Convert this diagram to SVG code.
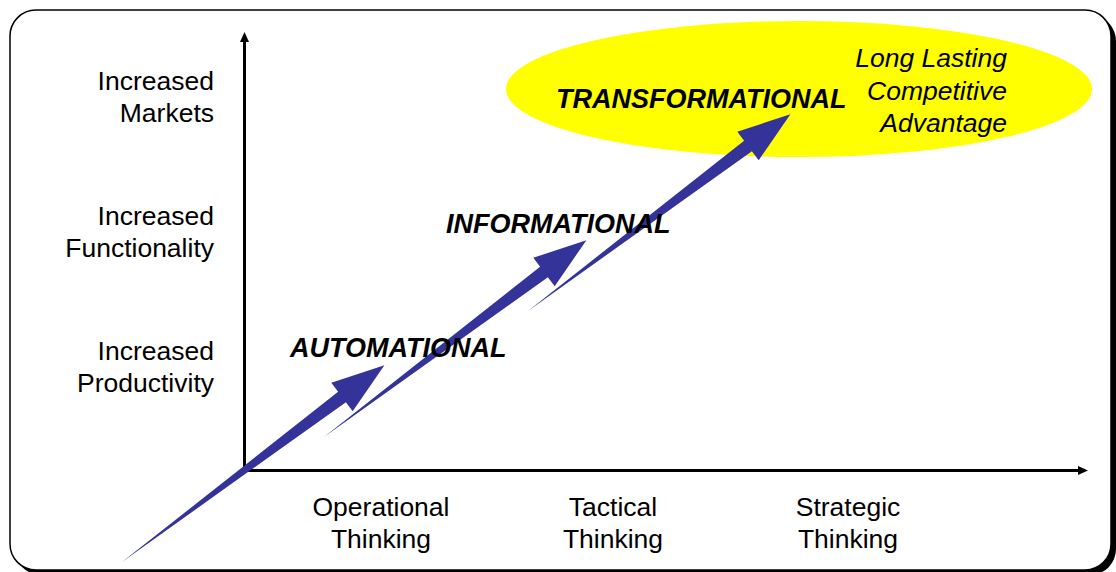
<svg xmlns="http://www.w3.org/2000/svg" width="1116" height="572" viewBox="0 0 1116 572">
  <style>
    .lbl { font-family: "Liberation Sans", Arial, sans-serif; font-size: 26.5px; fill: #000; }
    .r { text-anchor: end; }
    .c { text-anchor: middle; }
    .stage { font-family: "Liberation Sans", Arial, sans-serif; font-size: 27px; font-weight: bold; font-style: italic; fill: #000; }
    .it { font-family: "Liberation Sans", Arial, sans-serif; font-size: 26.5px; font-style: italic; fill: #000; text-anchor: end; }
    .axis { stroke: #000; stroke-width: 3; fill: none; }
    .blue { fill: #333399; }
  </style>
  <defs>
    <marker id="ah" markerWidth="10" markerHeight="9" refX="0" refY="4.5" orient="auto" markerUnits="userSpaceOnUse" viewBox="0 0 10 9">
      <path d="M0,0 L10,4.5 L0,9 Z" fill="#000"/>
    </marker>
    <polygon id="bigArrow" points="0,0 275,-6.5 275,-17.8 328,0 275,17.8 275,6.5"/>
  </defs>

  <g id="frame">
    <rect x="15" y="15" width="1101" height="560" rx="26" ry="26" fill="#000"/>
    <rect x="10" y="10" width="1101" height="560" rx="26" ry="26" fill="#fff" stroke="#000" stroke-width="1.5"/>
  </g>

  <g id="transformational-zone">
    <ellipse cx="799" cy="89" rx="293" ry="68" fill="#ffff00"/>
  </g>

  <g id="axes">
    <line class="axis" x1="244.5" y1="470.5" x2="244.5" y2="42" marker-end="url(#ah)"/>
    <line class="axis" x1="243" y1="470.5" x2="1078" y2="470.5" marker-end="url(#ah)"/>
  </g>

  <g id="connectors">
    <use href="#bigArrow" class="blue" transform="translate(122,562) rotate(-36.87)"/>
    <use href="#bigArrow" class="blue" transform="translate(324,437) rotate(-36.87)"/>
    <use href="#bigArrow" class="blue" transform="translate(528,311) rotate(-36.87)"/>
  </g>

  <g id="y-labels">
    <g id="y-markets">
      <text class="lbl r" x="214" y="90">Increased</text>
      <text class="lbl r" x="214" y="122">Markets</text>
    </g>
    <g id="y-functionality">
      <text class="lbl r" x="214" y="225">Increased</text>
      <text class="lbl r" x="214" y="257">Functionality</text>
    </g>
    <g id="y-productivity">
      <text class="lbl r" x="214" y="360">Increased</text>
      <text class="lbl r" x="214" y="392">Productivity</text>
    </g>
  </g>

  <g id="x-labels">
    <g id="x-operational">
      <text class="lbl c" x="381" y="516">Operational</text>
      <text class="lbl c" x="381" y="548">Thinking</text>
    </g>
    <g id="x-tactical">
      <text class="lbl c" x="613" y="516">Tactical</text>
      <text class="lbl c" x="613" y="548">Thinking</text>
    </g>
    <g id="x-strategic">
      <text class="lbl c" x="848" y="516">Strategic</text>
      <text class="lbl c" x="848" y="548">Thinking</text>
    </g>
  </g>

  <g id="stage-automational">
    <text class="stage" x="290" y="357">AUTOMATIONAL</text>
  </g>
  <g id="stage-informational">
    <text class="stage" x="446" y="233">INFORMATIONAL</text>
  </g>
  <g id="stage-transformational">
    <text class="stage" x="556" y="108">TRANSFORMATIONAL</text>
  </g>
  <g id="advantage-note">
    <text class="it" x="1007" y="67">Long Lasting</text>
    <text class="it" x="1007" y="100">Competitive</text>
    <text class="it" x="1007" y="132">Advantage</text>
  </g>
</svg>
